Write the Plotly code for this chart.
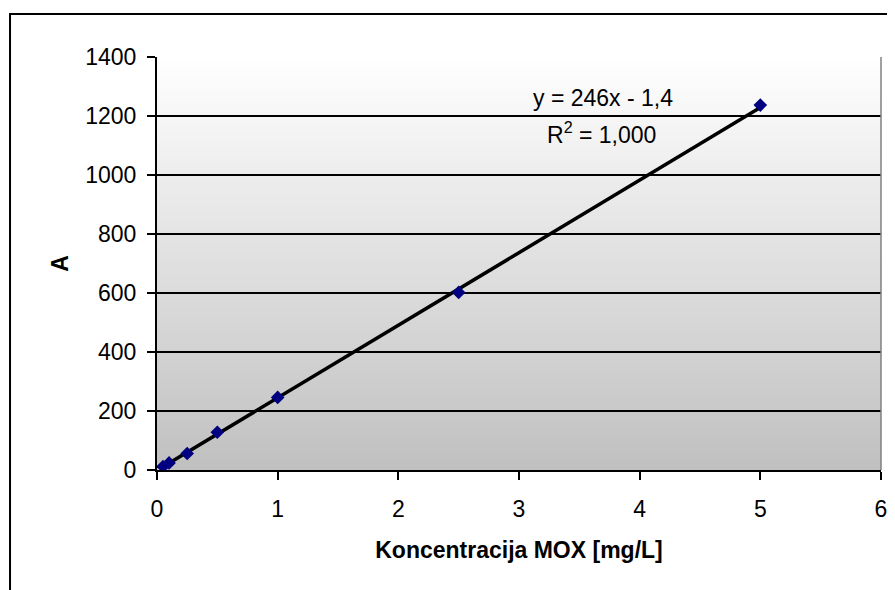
import plotly.graph_objects as go

conc = [0.05, 0.1, 0.25, 0.5, 1, 2.5, 5]
absorb = [12, 24, 56, 128, 246, 602, 1237]
slope = 246
intercept = -1.4
eq_text = "y = 246x - 1,4"
r2_text = "R<sup>2</sup> = 1,000"
x_ticks = [0, 1, 2, 3, 4, 5, 6]
y_ticks = [0, 200, 400, 600, 800, 1000, 1200, 1400]

FONT = "Liberation Sans, Arial, sans-serif"

fig = go.Figure()

x_line = [min(conc), max(conc)]
y_line = [slope * v + intercept for v in x_line]
fig.add_trace(go.Scatter(x=x_line, y=y_line, mode="lines",
                         line=dict(color="black", width=3.5), hoverinfo="skip"))
fig.add_trace(go.Scatter(x=conc, y=absorb, mode="markers",
                         marker=dict(symbol="diamond", size=10.5, color="#000080",
                                     line=dict(width=0))))

shapes = []
n = 120
for i in range(n):
    t = i / n
    c = int(round(192 + (255 - 192) * (t + 0.5 / n)))
    shapes.append(dict(type="rect", xref="paper", yref="paper",
                       x0=0, x1=1, y0=t, y1=t + 1.0 / n + 0.002,
                       fillcolor=f"rgb({c},{c},{c})", line=dict(width=0),
                       layer="below"))
# plot area right border
shapes.append(dict(type="line", xref="paper", yref="paper", x0=1, x1=1, y0=0, y1=1,
                   line=dict(color="#808080", width=1.5)))
# outer chart border
shapes.append(dict(type="rect", xref="paper", yref="paper",
                   x0=-0.203, x1=1.05, y0=-0.32, y1=1.104,
                   line=dict(color="black", width=2), fillcolor="rgba(0,0,0,0)"))

fig.update_layout(
    width=887, height=582,
    margin=dict(l=149, r=14, t=49, b=120),
    paper_bgcolor="white",
    plot_bgcolor="rgba(0,0,0,0)",
    showlegend=False,
    shapes=shapes,
    font=dict(family=FONT, size=23, color="black"),
    annotations=[
        dict(x=3.7, y=1262, xref="x", yref="y", text=eq_text, showarrow=False,
             font=dict(size=23, family=FONT)),
        dict(x=3.68, y=1142, xref="x", yref="y", text=r2_text, showarrow=False,
             font=dict(size=23, family=FONT)),
    ],
)
fig.update_xaxes(range=[0, 6], tickvals=x_ticks, showgrid=False, zeroline=False,
                 automargin=False,
                 showline=True, linecolor="black", linewidth=2,
                 ticks="outside", ticklen=8, tickwidth=2, tickcolor="black",
                 ticklabelstandoff=9,
                 tickfont=dict(size=23, family=FONT),
                 title=dict(text="<b>Koncentracija MOX [mg/L]</b>", standoff=21,
                            font=dict(size=23, family=FONT)))
fig.update_yaxes(range=[0, 1400], tickvals=y_ticks, showgrid=True, gridcolor="black",
                 gridwidth=1.5, zeroline=False,
                 automargin=False,
                 showline=True, linecolor="black", linewidth=2,
                 ticks="outside", ticklen=8, tickwidth=2, tickcolor="black",
                 ticklabelstandoff=6,
                 tickfont=dict(size=23, family=FONT),
                 title=dict(text="<b>A</b>", standoff=10,
                            font=dict(size=23, family=FONT)))

fig.write_html("out.html")
